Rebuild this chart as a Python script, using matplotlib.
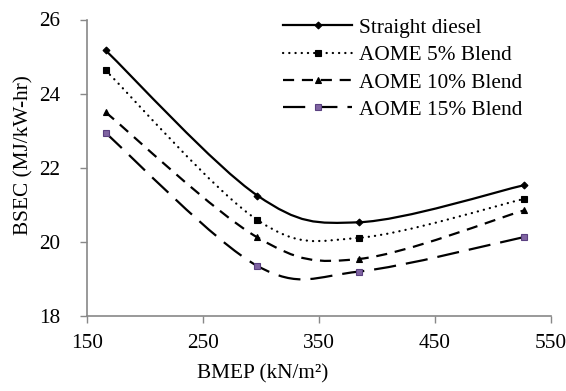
import numpy as np
import matplotlib
matplotlib.use("Agg")
import matplotlib.pyplot as plt
from matplotlib.path import Path
from matplotlib.patches import PathPatch
from matplotlib.lines import Line2D

plt.rcParams['font.family'] = ['Liberation Serif', 'DejaVu Serif']

bmep = [166, 297, 385, 527]
diesel = [25.17, 21.25, 20.53, 21.53]
aome5 = [24.63, 20.59, 20.11, 21.16]
aome10 = [23.50, 20.12, 19.54, 20.85]
aome15 = [22.94, 19.35, 19.20, 20.13]
labels = ["Straight diesel", "AOME 5% Blend", "AOME 10% Blend", "AOME 15% Blend"]
xticks = [150, 250, 350, 450, 550]
yticks = [18, 20, 22, 24, 26]

FS = 15.3
W, H = 566, 391
fig = plt.figure(figsize=(W / 100, H / 100), dpi=100)
ax = fig.add_axes([87 / W, 1 - 316 / H, (550.7 - 87) / W, (316 - 19.5) / H])

def smooth_path(xs, ys):
    pts = np.column_stack([xs, ys]).astype(float)
    n = len(pts)
    verts = [pts[0]]
    codes = [Path.MOVETO]
    for i in range(n - 1):
        p0 = pts[max(i - 1, 0)]
        p1 = pts[i]
        p2 = pts[i + 1]
        p3 = pts[min(i + 2, n - 1)]
        c1 = p1 + (p2 - p0) / 6.0
        c2 = p2 - (p3 - p1) / 6.0
        verts += [c1, c2, p2]
        codes += [Path.CURVE4] * 3
    return Path(verts, codes)

DOT = (0, (0.1, 2.7))
styles = [
    dict(ls='-', marker='D', ms=3.5, mfc='black', mec='black'),
    dict(ls=DOT, marker='s', ms=5, mfc='black', mec='black'),
    dict(ls=(0, (5, 3.5)), marker='^', ms=5, mfc='black', mec='black'),
    dict(ls=(0, (10, 4.5)), marker='s', ms=4, mfc='#8064A2', mec='#5a4080'),
]
series = [diesel, aome5, aome10, aome15]

handles = []
for ys, st, lab in zip(series, styles, labels):
    capstyle = 'round' if st['ls'] == DOT else 'butt'
    patch = PathPatch(smooth_path(bmep, ys), fill=False, edgecolor='black',
                      lw=1.6, linestyle=st['ls'], capstyle=capstyle, zorder=2)
    ax.add_patch(patch)
    ax.plot(bmep, ys, linestyle='none', marker=st['marker'], ms=st['ms'],
            mfc=st['mfc'], mec=st['mec'], mew=0.8, zorder=3)
    h = Line2D([], [], color='black', lw=1.6, linestyle=st['ls'],
               marker=st['marker'], ms=st['ms'], mfc=st['mfc'], mec=st['mec'],
               mew=0.8, dash_capstyle=capstyle)
    handles.append(h)

ax.set_xlim(150, 550)
ax.set_ylim(18, 26)
ax.set_xticks(xticks)
ax.set_yticks(yticks)
ax.tick_params(labelsize=FS, direction='out', length=5, color='#888888', width=1)
ax.tick_params(axis='y', pad=14)
ax.tick_params(axis='x', pad=8)
for s in ['top', 'right']:
    ax.spines[s].set_visible(False)
for s in ['left', 'bottom']:
    ax.spines[s].set_color('#888888')
    ax.spines[s].set_linewidth(1.2)

ax.set_xlabel("BMEP (kN/m\u00b2)", fontsize=FS)
ax.set_ylabel("BSEC (MJ/kW-hr)", fontsize=FS)
ax.xaxis.set_label_coords((263 - 87) / (550.7 - 87), -(374 - 316) / (316 - 19.5))
ax.yaxis.set_label_coords(-(87 - 24) / (550.7 - 87), (316 - 155) / (316 - 19.5))
ax.xaxis.label.set_va('center')
ax.yaxis.label.set_va('center')

leg = fig.legend(handles, labels, loc='upper left',
                 bbox_to_anchor=(283 / W, 1 - 18 / H),
                 frameon=False, fontsize=FS, handlelength=3.25, handletextpad=0.33,
                 labelspacing=0.35, numpoints=1, borderpad=0, borderaxespad=0)

fig.savefig("out.png", dpi=100)
